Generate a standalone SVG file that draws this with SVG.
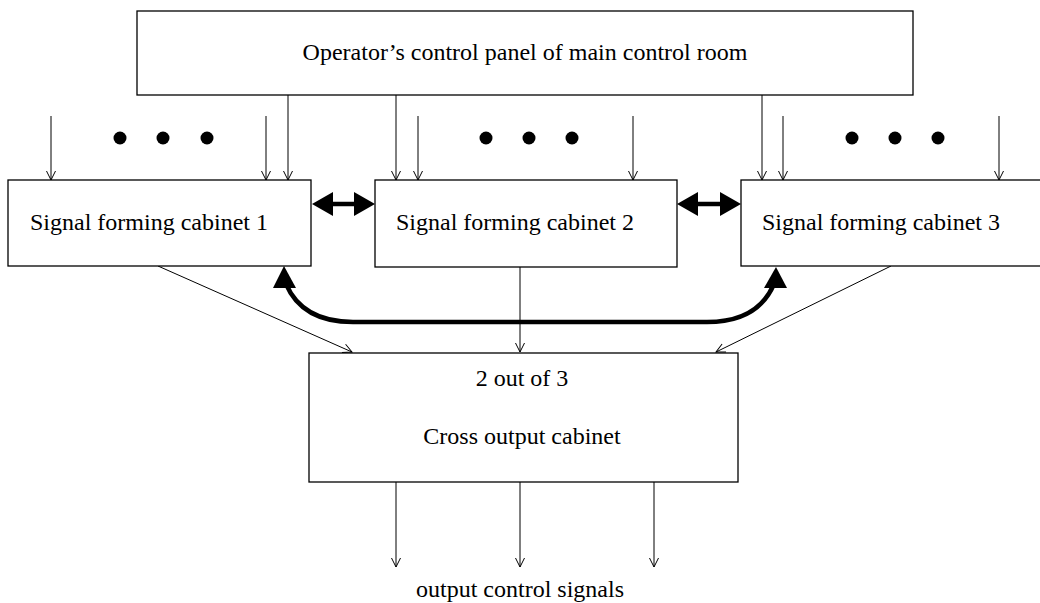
<svg xmlns="http://www.w3.org/2000/svg" width="1040" height="603" viewBox="0 0 1040 603">
  <style>
    .box { fill: #fff; stroke: #000; stroke-width: 1.3; }
    .lbl { font-family: "Liberation Serif", "Times New Roman", serif; font-size: 24px; fill: #000; }
    .thin { fill: none; stroke: #000; stroke-width: 1; marker-end: url(#vhead); }
    .thick { fill: none; stroke: #000; stroke-width: 4.5; }
    .head { fill: #000; stroke: none; }
    .dot { fill: #000; }
  </style>
  <defs>
    <marker id="vhead" viewBox="-10 -6 12 12" markerWidth="12" markerHeight="12" refX="0" refY="0" markerUnits="userSpaceOnUse" orient="auto">
      <path d="M-9,-4.5 L0,0 L-9,4.5" fill="none" stroke="#000" stroke-width="1"/>
    </marker>
  </defs>
  <rect width="1040" height="603" fill="#fff"/>

  <g id="connectors">
    <!-- from control panel -->
    <line class="thin" x1="288" y1="95" x2="288" y2="180"/>
    <line class="thin" x1="396" y1="95" x2="396" y2="180"/>
    <line class="thin" x1="762" y1="95" x2="762" y2="180"/>
    <!-- external inputs -->
    <line class="thin" x1="51" y1="116" x2="51" y2="180"/>
    <line class="thin" x1="266" y1="116" x2="266" y2="180"/>
    <line class="thin" x1="418" y1="116" x2="418" y2="180"/>
    <line class="thin" x1="633" y1="116" x2="633" y2="180"/>
    <line class="thin" x1="783" y1="116" x2="783" y2="180"/>
    <line class="thin" x1="999" y1="116" x2="999" y2="180"/>
    <!-- to cross output cabinet -->
    <line class="thin" x1="158" y1="266" x2="352" y2="352"/>
    <line class="thin" x1="520" y1="267" x2="520" y2="352"/>
    <line class="thin" x1="891" y1="266" x2="716" y2="352"/>
    <!-- outputs -->
    <line class="thin" x1="396" y1="482" x2="396" y2="567"/>
    <line class="thin" x1="520" y1="482" x2="520" y2="567"/>
    <line class="thin" x1="654" y1="482" x2="654" y2="567"/>
    <!-- double arrows between cabinets -->
    <line class="thick" x1="330" y1="204" x2="357" y2="204"/>
    <polygon class="head" points="312,204 333,192 333,216"/>
    <polygon class="head" points="375,204 354,192 354,216"/>
    <line class="thick" x1="695" y1="204" x2="723" y2="204"/>
    <polygon class="head" points="677,204 698,192 698,216"/>
    <polygon class="head" points="741,204 720,192 720,216"/>
    <!-- curved link cabinet 1 <-> cabinet 3 -->
    <path class="thick" d="M 286 284 C 298 312 322 322 353 322 L 707 322 C 738 322 762 312 774 284"/>
    <polygon class="head" points="284,266 273,288 296,288"/>
    <polygon class="head" points="776,267 764,288 787,288"/>
  </g>

  <g id="dots">
    <circle class="dot" cx="120" cy="138" r="6.5"/>
    <circle class="dot" cx="163" cy="138" r="6.5"/>
    <circle class="dot" cx="207" cy="138" r="6.5"/>
    <circle class="dot" cx="486" cy="138" r="6.5"/>
    <circle class="dot" cx="529" cy="138" r="6.5"/>
    <circle class="dot" cx="572" cy="138" r="6.5"/>
    <circle class="dot" cx="852" cy="138" r="6.5"/>
    <circle class="dot" cx="895" cy="138" r="6.5"/>
    <circle class="dot" cx="938" cy="138" r="6.5"/>
  </g>

  <g id="control-panel">
    <rect class="box" x="137" y="11" width="776" height="84"/>
    <text class="lbl" x="525" y="60" text-anchor="middle">Operator’s control panel of main control room</text>
  </g>

  <g id="cabinet-1">
    <rect class="box" x="8" y="180" width="303" height="86"/>
    <text class="lbl" x="30" y="230">Signal forming cabinet 1</text>
  </g>

  <g id="cabinet-2">
    <rect class="box" x="375" y="180" width="302" height="87"/>
    <text class="lbl" x="396" y="230">Signal forming cabinet 2</text>
  </g>

  <g id="cabinet-3">
    <rect class="box" x="741" y="180" width="310" height="86"/>
    <text class="lbl" x="762" y="230">Signal forming cabinet 3</text>
  </g>

  <g id="cross-output">
    <rect class="box" x="309" y="353" width="429" height="129"/>
    <text class="lbl" x="522" y="386" text-anchor="middle">2 out of 3</text>
    <text class="lbl" x="522" y="444" text-anchor="middle">Cross output cabinet</text>
  </g>

  <g id="output-label">
    <text class="lbl" x="520" y="597" text-anchor="middle">output control signals</text>
  </g>
</svg>
